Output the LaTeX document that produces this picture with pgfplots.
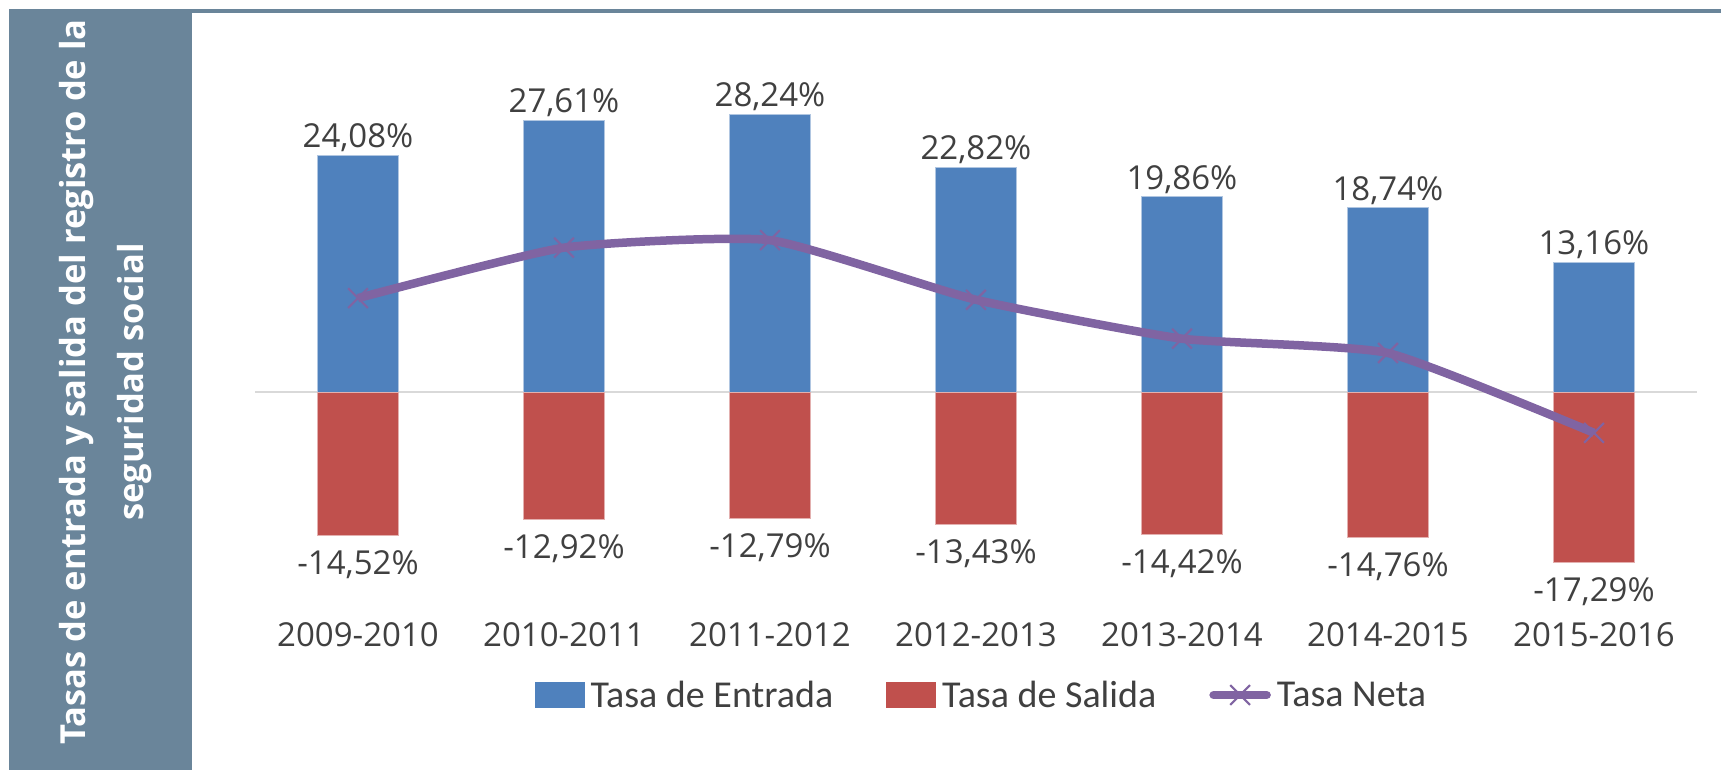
\documentclass[border=0pt]{standalone}
\usepackage{pgfplots}
\pgfplotsset{compat=1.18}
\usepackage{fontspec}
\setmainfont{Open Sans}
\newfontfamily\legfont{Carlito}
\definecolor{cblue}{RGB}{79,129,189}
\definecolor{cred}{RGB}{192,80,77}
\definecolor{cpurple}{RGB}{128,100,162}
\definecolor{panel}{RGB}{106,133,154}
\definecolor{txt}{RGB}{64,64,64}
\definecolor{zline}{RGB}{217,217,217}
\begin{document}
\begin{tikzpicture}[x=1pt,y=1pt]
\path[use as bounding box] (0,0) rectangle (1721,770);
\fill[panel] (9,0) rectangle (192,761);
\fill[panel] (192,757) rectangle (1721,761);
\node[rotate=90, align=center, text=white, font=\fontsize{34.5}{58}\selectfont\bfseries] at (106,388) {Tasas de entrada y salida del registro de la\\seguridad social};
\begin{axis}[
  at={(255pt,181pt)}, anchor=south west,
  scale only axis, width=1442pt, height=492pt,
  xmin=-0.5, xmax=6.5, ymin=-20, ymax=30,
  axis line style={draw=none},
  ytick=\empty,
  xtick={0,1,2,3,4,5,6},
  xticklabels={2009-2010,2010-2011,2011-2012,2012-2013,2013-2014,2014-2015,2015-2016},
  major tick length=0pt,
  xticklabel style={font=\fontsize{33}{40}\selectfont, text=txt, yshift=-30pt},
  clip=false,
  legend columns=3,
  legend style={draw=none, fill=none, at={(axis description cs:0.503,-0.2155)}, anchor=center,
    font=\legfont\fontsize{38}{42}\selectfont, text=txt,
    nodes={inner sep=0pt},
    /tikz/every odd column/.append style={column sep=6pt},
    /tikz/every even column/.append style={column sep=53pt}},
  barlab/.style={nodes near coords={\pgfmathprintnumber[fixed,fixed zerofill,precision=2,use comma,assume math mode=true]{\pgfplotspointmeta}\%},
    every node near coord/.append style={font=\fontsize{33}{40}\selectfont, text=txt, inner sep=3pt}},
]
\draw[zline, line width=2.5pt] (axis cs:-0.5,0) -- (axis cs:6.5,0);
\addplot[ybar, bar width=81pt, bar shift=0pt, fill=cblue, draw=cblue!45!white, line width=1pt, barlab,
  legend image code/.code={\fill[cblue] (0pt,-12.5pt) rectangle (49pt,12.5pt);}]
  coordinates {(0,24.08) (1,27.61) (2,28.24) (3,22.82) (4,19.86) (5,18.74) (6,13.16)};
\addlegendentry{Tasa de Entrada}
\addplot[ybar, bar width=81pt, bar shift=0pt, fill=cred, draw=cred!45!white, line width=1pt, barlab,
  every node near coord/.append style={yshift=-12pt},
  legend image code/.code={\fill[cred] (0pt,-12.5pt) rectangle (49pt,12.5pt);}]
  coordinates {(0,-14.52) (1,-12.92) (2,-12.79) (3,-13.43) (4,-14.42) (5,-14.76) (6,-17.29)};
\addlegendentry{Tasa de Salida}
\addplot[smooth, tension=0.3, color=cpurple, mark=x, mark size=14pt,
  mark options={solid, line width=2.2pt}, line width=8.5pt,
  legend image code/.code={\draw[cpurple, line width=8.5pt, line cap=round] (0pt,0pt) -- (53pt,0pt);
    \draw[cpurple, line width=2.2pt, mark=x, mark size=14pt] plot coordinates {(26.5pt,0pt)};}]
  coordinates {(0,9.56) (1,14.69) (2,15.45) (3,9.39) (4,5.44) (5,3.98) (6,-4.13)};
\addlegendentry{Tasa Neta}
\end{axis}
\end{tikzpicture}
\end{document}
